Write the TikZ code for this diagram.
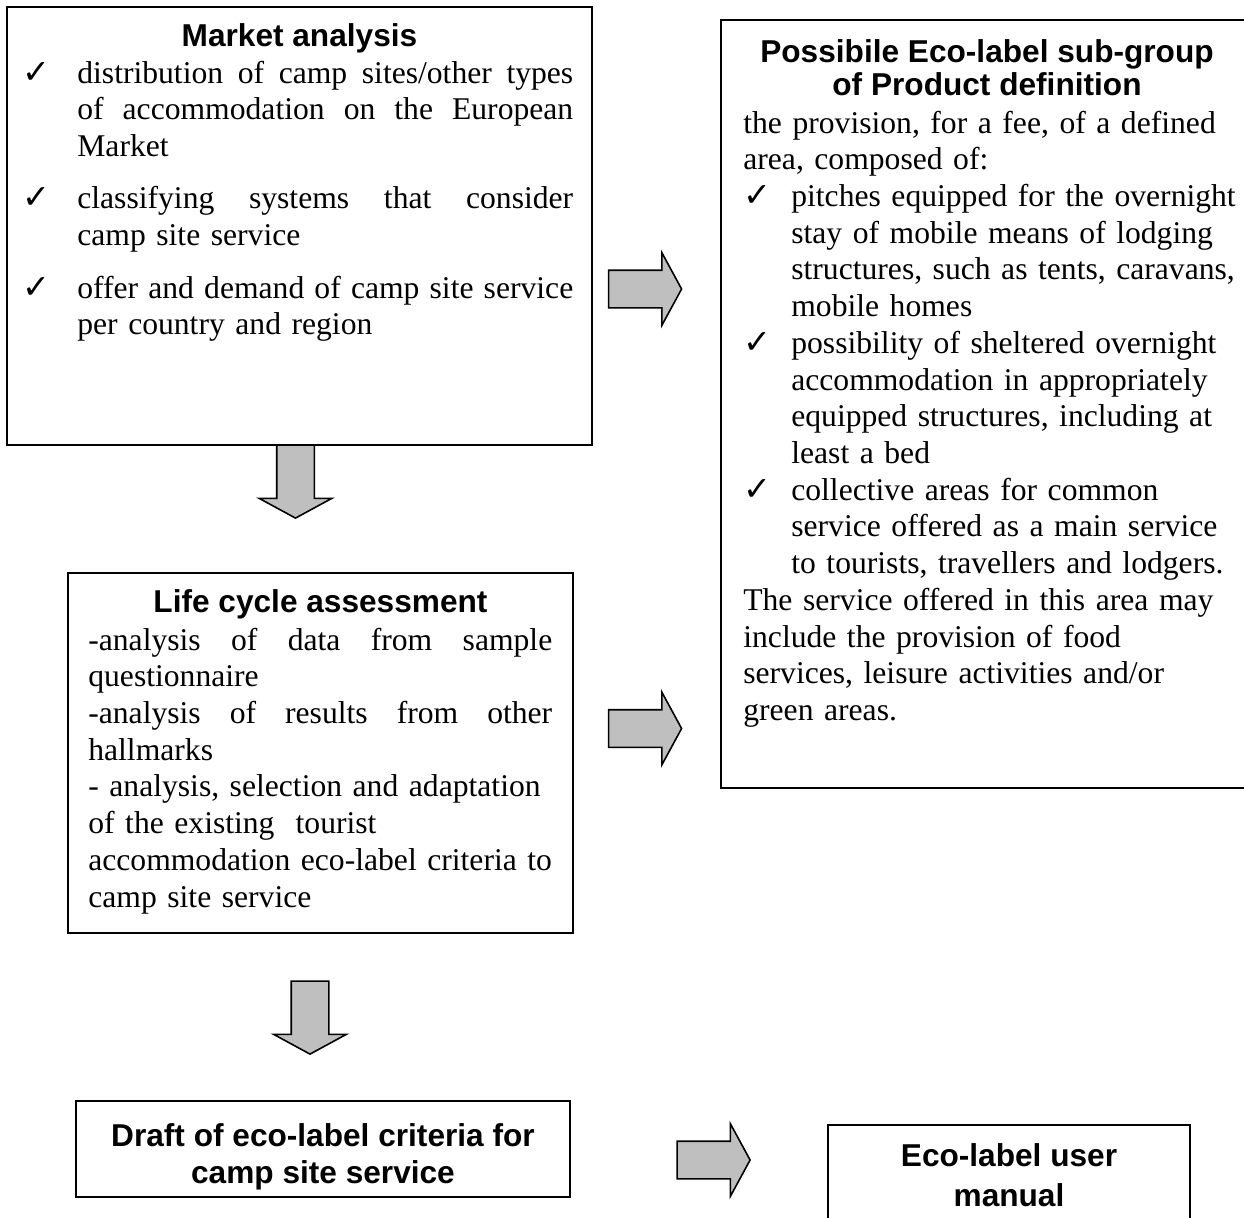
\documentclass[tikz,border=0pt]{standalone}
\usepackage{fontspec}
\setmainfont{Liberation Serif}
\newfontfamily\headfont{Liberation Sans}
\newfontfamily\symfont{DejaVu Sans}
\usetikzlibrary{positioning,shapes.arrows}

\newcommand{\chk}{{\symfont\fontsize{19}{19}\selectfont ✓}}
\newcommand{\chkl}{\leavevmode\llap{\chk\hspace{0.54cm}}}
\newcommand{\chkitem}{\makebox[0.96cm][l]{\chk}}
\newcommand{\indnt}{\hspace*{0.96cm}}
\newcommand{\spread}[2][9.92cm]{\leavevmode\hbox to #1{\spaceskip=0.25em plus 1fill\relax #2}}

\begin{document}
\begin{tikzpicture}[x=0.02cm, y=-0.02cm,
    box/.style={rectangle, draw, line width=0.9pt, inner sep=0pt, outer sep=0pt},
    head/.style={inner sep=0pt, align=center, font=\headfont\bfseries\fontsize{18}{21}\selectfont},
    body/.style={inner sep=0pt, align=left, anchor=base west, font=\fontsize{18}{20.9}\selectfont, execute at begin node=\setlength{\parindent}{0pt}},
    fatarrow/.style={single arrow, draw, line width=0.9pt, fill=black!25, minimum height=1.46cm, minimum width=1.42cm, single arrow head extend=0.35cm, single arrow tip angle=123, inner sep=0.36cm, outer sep=0pt}]

\useasboundingbox (0,0) rectangle (1244,1217);
\clip (0,0) rectangle (1244,1217);

% Boxes
\node[box, minimum width=11.7cm, minimum height=8.76cm] (market) at (299.5,226) {};
\node[box, minimum width=10.1cm, minimum height=7.2cm] (lca) at (320.5,753) {};
\node[box, minimum width=10.64cm, minimum height=15.36cm] (product) at (987,404) {};
\node[box, minimum width=9.88cm, minimum height=1.92cm] (draft) at (323,1149) {};
\node[box, minimum width=7.24cm, minimum height=2.8cm] (manual) at (1009,1195) {};

% Titles
\node[head, below=0.32cm of market.north] (marketTitle) {Market analysis};
\node[head, below=0.33cm of lca.north] (lcaTitle) {Life cycle assessment};
\node[head, below=0.39cm of product.north, font=\headfont\bfseries\fontsize{18}{18.8}\selectfont] (productTitle) {Possibile Eco-label sub-group\\of Product definition};
\node[head, below=0.44cm of draft.north] (draftTitle) {Draft of eco-label criteria for\\camp site service};
\node[head, below=0.36cm of manual.north, font=\headfont\bfseries\fontsize{18}{22.8}\selectfont] (manualTitle) {Eco-label user\\manual};

% Box texts
\node[body, text width=9.92cm] (marketTxt) at (77,83) {%
\chkl\spread{distribution of camp sites/other types}\\
\spread{of accommodation on the European}\\
Market\\[9pt]
\chkl\spread{classifying systems that consider}\\
camp site service\\[9pt]
\chkl\spread{offer and demand of camp site service}\\
per country and region};

\node[body, text width=9.28cm] (lcaTxt) at (88,650) {%
\spread[9.28cm]{-analysis of data from sample}\\
questionnaire\\
\spread[9.28cm]{-analysis of results from other}\\
hallmarks\\
- analysis, selection and adaptation\\
of the existing~ tourist\\
accommodation eco-label criteria to\\
camp site service};

\node[body, text width=10cm] (productTxt) at (743,133) {%
the provision, for a fee, of a defined\\
area, composed of:\\
\chkitem pitches equipped for the overnight\\
\indnt stay of mobile means of lodging\\
\indnt structures, such as tents, caravans,\\
\indnt mobile homes\\
\chkitem possibility of sheltered overnight\\
\indnt accommodation in appropriately\\
\indnt equipped structures, including at\\
\indnt least a bed\\
\chkitem collective areas for common\\
\indnt service offered as a main service\\
\indnt to tourists, travellers and lodgers.\\
The service offered in this area may\\
include the provision of food\\
services, leisure activities and/or\\
green areas.};

% Block arrows
\node[fatarrow] (toProductA) at (640,289) {};
\node[fatarrow] (toProductB) at (640,728.5) {};
\node[fatarrow] (toManual) at (708.5,1160) {};
\node[fatarrow, shape border rotate=270] (toLca) at (295.5,476.5) {};
\node[fatarrow, shape border rotate=270] (toDraft) at (310,1012.5) {};

\end{tikzpicture}
\end{document}
